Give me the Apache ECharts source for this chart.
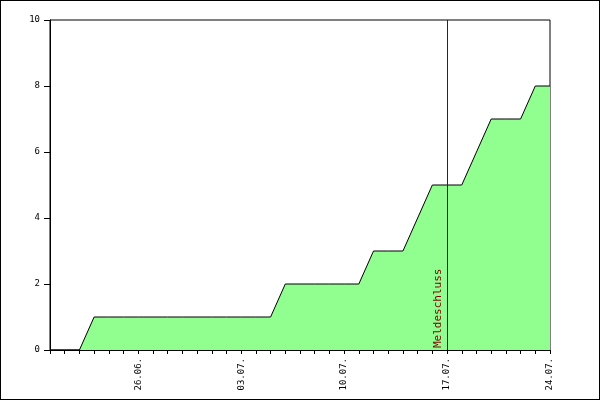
<!DOCTYPE html><html><head><meta charset="utf-8"><script src="https://cdn.jsdelivr.net/npm/echarts@6/dist/echarts.min.js"></script>
<style>html,body{margin:0;padding:0}#c{width:600px;height:400px;box-sizing:border-box;border:1px solid #000}</style></head><body><div id="c"></div><script>
const dates=['20.06.','21.06.','22.06.','23.06.','24.06.','25.06.','26.06.','27.06.','28.06.','29.06.','30.06.','01.07.','02.07.','03.07.','04.07.','05.07.','06.07.','07.07.','08.07.','09.07.','10.07.','11.07.','12.07.','13.07.','14.07.','15.07.','16.07.','17.07.','18.07.','19.07.','20.07.','21.07.','22.07.','23.07.','24.07.'];
const values=[0,0,0,1,1,1,1,1,1,1,1,1,1,1,1,1,2,2,2,2,2,2,3,3,3,4,5,5,5,6,7,7,7,8,8];
const shownLabels=['26.06.','03.07.','10.07.','17.07.','24.07.'];
const deadline='17.07.';
const f={fontFamily:'DejaVu Sans Mono',fontSize:9,color:'#000'};
const ch=echarts.init(document.getElementById('c'));
ch.setOption({animation:false,
grid:{left:49,right:49,top:19,bottom:49,show:true,borderColor:'#000',borderWidth:1},
xAxis:{type:'category',data:dates,boundaryGap:false,
 axisLine:{lineStyle:{color:'#000'}},axisTick:{show:true,interval:0,length:4,lineStyle:{color:'#000'}},
 axisLabel:Object.assign({rotate:90,interval:0,margin:8,formatter:v=>shownLabels.includes(v)?v:''},f)},
yAxis:{type:'value',min:0,max:10,interval:2,splitLine:{show:false},
 axisLine:{show:true,lineStyle:{color:'#000'}},axisTick:{show:true,length:6,lineStyle:{color:'#000'}},axisLabel:Object.assign({margin:10},f)},
series:[{type:'line',data:values,symbol:'none',lineStyle:{color:'#000',width:1},areaStyle:{color:'#90ff90',opacity:1},
 markLine:{silent:true,symbol:'none',data:[{xAxis:deadline}],lineStyle:{color:'#800000',width:1,type:'solid'},
 label:{formatter:'Meldeschluss',position:'insideStartTop',distance:[2,3],color:'#800000',fontFamily:'DejaVu Sans Mono',fontSize:11}}}]});
</script></body></html>
